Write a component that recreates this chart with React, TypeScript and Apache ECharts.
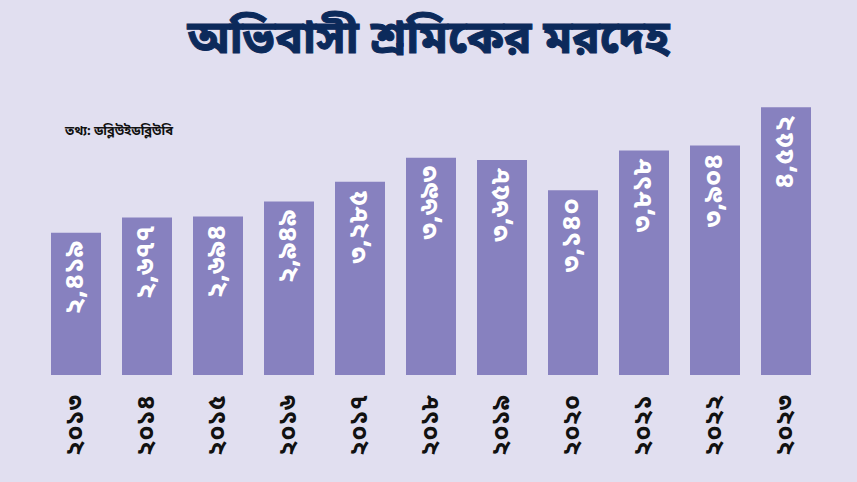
import React, { useEffect, useRef } from "react";
import * as echarts from "echarts";

const years = ["২০১৩", "২০১৪", "২০১৫", "২০১৬", "২০১৭", "২০১৮", "২০১৯", "২০২০", "২০২১", "২০২২", "২০২৩"];
const values = [2419, 2677, 2694, 2949, 3285, 3693, 3658, 3140, 3818, 3904, 4552];
const valueLabels = ["২,৪১৯", "২,৬৭৭", "২,৬৯৪", "২,৯৪৯", "৩,২৮৫", "৩,৬৯৩", "৩,৬৫৮", "৩,১৪০", "৩,৮১৮", "৩,৯০৪", "৪,৫৫২"];
const title = "অভিবাসী শ্রমিকের মরদেহ";
const source = "তথ্য: ডব্লিউইডব্লিউবি";

const FONT = "'Noto Sans Bengali', 'Noto Sans', sans-serif";

export default function App() {
  const ref = useRef<HTMLDivElement>(null);
  useEffect(() => {
    if (!ref.current) return;
    const chart = echarts.init(ref.current, undefined, { renderer: "svg" });
    chart.setOption({
      animation: false,
      backgroundColor: "#e1dff0",
      title: {
        text: title,
        left: "center",
        top: 13,
        textStyle: {
          fontSize: 46,
          fontWeight: "bold",
          color: "#0c2a5b",
          fontFamily: FONT,
          textBorderColor: "#0c2a5b",
          textBorderWidth: 1,
        },
      },
      graphic: [
        {
          type: "text",
          left: 65,
          top: 125,
          style: {
            text: source,
            fontSize: 13,
            fontWeight: "bold",
            fill: "#111",
            fontFamily: FONT,
          },
        },
      ],
      grid: { left: 40.5, right: 35.5, top: 81, bottom: 107 },
      xAxis: {
        type: "category",
        data: years,
        axisLine: { show: false },
        axisTick: { show: false },
        axisLabel: {
          rotate: 90,
          margin: 20,
          fontSize: 25,
          fontWeight: "bold",
          color: "#111",
          fontFamily: FONT,
        },
      },
      yAxis: { type: "value", min: 0, max: 5000, show: false, splitLine: { show: false } },
      series: [
        {
          type: "bar",
          data: values,
          barWidth: 50,
          itemStyle: { color: "#8781bf" },
          label: {
            show: true,
            position: "insideTop",
            rotate: 90,
            align: "right",
            verticalAlign: "middle",
            distance: 8,
            fontSize: 27,
            fontWeight: "bold",
            color: "#fff",
            fontFamily: FONT,
            formatter: (p: any) => valueLabels[p.dataIndex],
          },
        },
      ],
    });
    return () => chart.dispose();
  }, []);
  return <div ref={ref} style={{ width: 857, height: 482, position: "absolute", left: 0, top: 0 }} />;
}
